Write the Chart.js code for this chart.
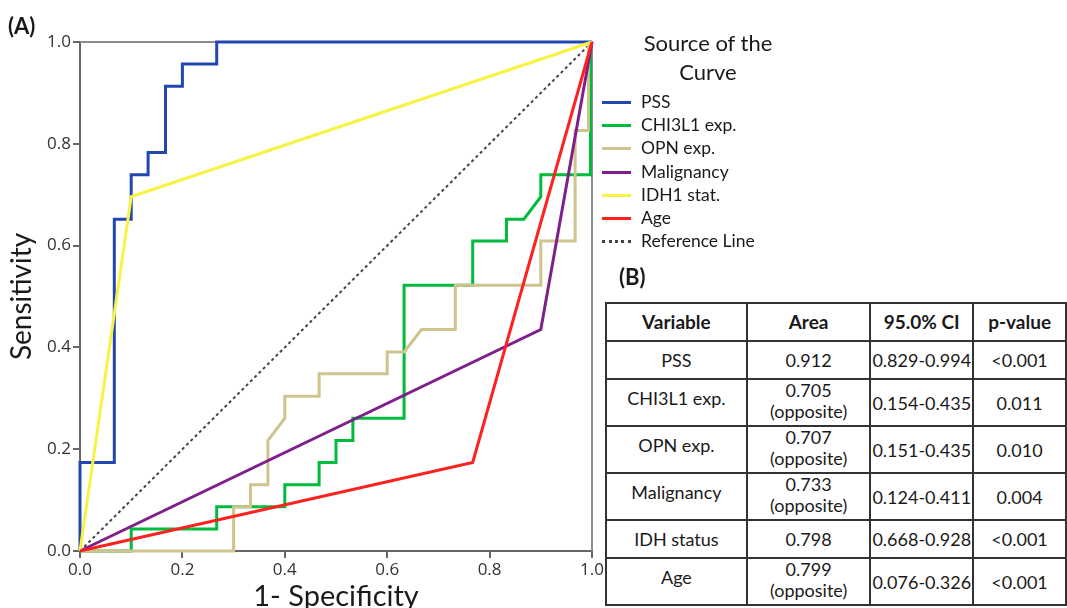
<!DOCTYPE html>
<html>
<head>
<meta charset="utf-8">
<script src="https://cdn.jsdelivr.net/npm/chart.js@4.4.1/dist/chart.umd.min.js"></script>
<style>
  html,body{margin:0;padding:0;background:#fff;overflow:hidden}
  body{width:1067px;height:608px;position:relative;font-family:Lato,sans-serif;color:#1a1a1a}
  #roc{position:absolute;left:0;top:0}
  .panel{position:absolute;font-weight:bold;font-size:22px;line-height:26px}
  #legend{position:absolute;left:596px;top:28px;width:224px}
  #legend .ttl{text-align:center;font-size:22px;line-height:29px}
  .item{position:absolute;left:45px;font-size:17.5px;line-height:20px;white-space:nowrap}
  .item i{position:absolute;left:-39px;top:9px;width:29px;height:0;border-top:3px solid}
  #stats{position:absolute;left:605px;top:302px;border-collapse:collapse;table-layout:fixed;background:#fff;font-size:18px}
  #stats th,#stats td{border:2px solid #333;text-align:center;padding:0;line-height:22px;white-space:nowrap;overflow:visible}
  #stats th{font-size:19px}
  #stats td.top{vertical-align:top;padding-top:7px}
  #stats td.area2{vertical-align:top;padding-top:0;line-height:21px}
</style>
</head>
<body>
<canvas id="roc" width="620" height="608"></canvas>
<div class="panel" style="left:8px;top:13px">(A)</div>
<div class="panel" style="left:619px;top:264px">(B)</div>
<div id="legend"><div class="ttl">Source of the<br>Curve</div></div>
<table id="stats"></table>

<script>
// ROC curves (x = 1 - specificity, y = sensitivity)
const curveNames = ['PSS','CHI3L1 exp.','OPN exp.','Malignancy','IDH1 stat.','Age','Reference Line'];
const curveColors = ['#2148b0','#00bb3c','#cfc48e','#7e1f8c','#f8f245','#ff2020','#444444'];

const pssX = [0,0,0.067,0.067,0.1,0.1,0.133,0.133,0.167,0.167,0.2,0.2,0.267,0.267,1];
const pssY = [0,0.174,0.174,0.652,0.652,0.739,0.739,0.783,0.783,0.913,0.913,0.957,0.957,1,1];

const chiX = [0,0.1,0.1,0.267,0.267,0.4,0.4,0.467,0.467,0.5,0.5,0.533,0.533,0.633,0.633,0.767,0.767,0.833,0.833,0.867,0.9,0.9,0.997,0.997,0.997];
const chiY = [0,0,0.043,0.043,0.087,0.087,0.13,0.13,0.174,0.174,0.217,0.217,0.261,0.261,0.522,0.522,0.609,0.609,0.652,0.652,0.696,0.739,0.739,0.826,1];

const opnX = [0,0.3,0.3,0.333,0.333,0.367,0.367,0.4,0.4,0.467,0.467,0.6,0.6,0.633,0.667,0.733,0.733,0.9,0.9,0.967,0.967,0.993,0.993];
const opnY = [0,0,0.087,0.087,0.13,0.13,0.217,0.261,0.304,0.304,0.348,0.348,0.391,0.391,0.435,0.435,0.522,0.522,0.609,0.609,0.826,0.826,1];

const malX = [0,0.9,1];
const malY = [0,0.435,1];

const idhX = [0,0.1,1];
const idhY = [0,0.696,1];

const ageX = [0,0.767,1];
const ageY = [0,0.174,1];

const refX = [0,1];
const refY = [0,1];

const axisTicks = [0,0.2,0.4,0.6,0.8,1.0];

// table (B)
const tableHead = ['Variable','Area','95.0% CI','p-value'];
const tableVariables = ['PSS','CHI3L1 exp.','OPN exp.','Malignancy','IDH status','Age'];
const tableAreas = ['0.912','0.705','0.707','0.733','0.798','0.799'];
const tableOpposite = [false,true,true,true,false,true];
const tableCI = ['0.829-0.994','0.154-0.435','0.151-0.435','0.124-0.411','0.668-0.928','0.076-0.326'];
const tablePValues = ['<0.001','0.011','0.010','0.004','<0.001','<0.001'];

const colWidths = [144,127,103,95];
const rowHeights = [38,38,47,47,47,38,47];

function pts(xs,ys){return xs.map((x,i)=>({x,y:ys[i]}))}

const curveX = [pssX,chiX,opnX,malX,idhX,ageX,refX];
const curveY = [pssY,chiY,opnY,malY,idhY,ageY,refY];
// later curves sit on top, reference line underneath
const drawOrder = [5,4,3,2,1,0,6];

const datasets = curveNames.map((name,i)=>({
  label:name,
  data:pts(curveX[i],curveY[i]),
  borderColor:curveColors[i],
  borderWidth:i===6?2:3,
  borderDash:i===6?[3,3]:[],
  showLine:true,
  pointRadius:0,
  tension:0,
  clip:false,
  order:drawOrder[i]
}));

const frame = {
  id:'frame',
  beforeDatasetsDraw(chart){
    const {ctx,chartArea:a} = chart;
    ctx.save();
    ctx.strokeStyle='#8c8c8c';ctx.lineWidth=2;
    ctx.beginPath();ctx.moveTo(a.left,a.top);ctx.lineTo(a.right,a.top);ctx.lineTo(a.right,a.bottom);ctx.stroke();
    ctx.restore();
  }
};

const tickFont = {family:'"Open Sans"',size:17};
const axisCommon = {
  type:'linear',min:0,max:1,
  afterBuildTicks:s=>{s.ticks=axisTicks.map(v=>({value:v}))},
  ticks:{font:tickFont,color:'#333',padding:2,callback:v=>Number(v).toFixed(1)},
  grid:{drawOnChartArea:false,color:'#666',lineWidth:2,tickLength:7},
  border:{color:'#666',width:2}
};

new Chart(document.getElementById('roc'),{
  type:'scatter',
  data:{datasets},
  plugins:[frame],
  options:{
    responsive:false,animation:false,
    layout:{padding:{left:0,top:42,right:28,bottom:0}},
    plugins:{legend:{display:false},tooltip:{enabled:false}},
    scales:{
      x:{...axisCommon,
        afterFit:s=>{s.height=57},
        title:{display:true,text:'1- Specificity',color:'#1a1a1a',font:{family:'Lato',size:29},padding:{top:0,bottom:-6}}},
      y:{...axisCommon,
        afterFit:s=>{s.width=80},
        title:{display:true,text:'Sensitivity',color:'#1a1a1a',font:{family:'Lato',size:28},padding:{top:5,bottom:0}}}
    }
  }
});

// legend
const legend = document.getElementById('legend');
curveNames.forEach((name,i)=>{
  const d=document.createElement('div');
  d.className='item';
  d.style.top=(64+i*23.2)+'px';
  d.innerHTML='<i style="border-top:'+(i===6?'3px dotted ':'3px solid ')+curveColors[i]+'"></i>'+name;
  legend.appendChild(d);
});

// table
const tbl = document.getElementById('stats');
let html = '<colgroup>'+colWidths.map(w=>'<col style="width:'+w+'px">').join('')+'</colgroup>';
html += '<tr style="height:'+rowHeights[0]+'px">'+tableHead.map(h=>'<th>'+h+'</th>').join('')+'</tr>';
tableVariables.forEach((v,i)=>{
  const opp = tableOpposite[i];
  html += '<tr style="height:'+rowHeights[i+1]+'px">'+
    '<td'+(opp?' class="top"':'')+'>'+v+'</td>'+
    '<td'+(opp?' class="area2"':'')+'>'+tableAreas[i]+(opp?'<br>(opposite)':'')+'</td>'+
    '<td>'+tableCI[i]+'</td>'+
    '<td>'+tablePValues[i].replace('<','&lt;')+'</td></tr>';
});
tbl.innerHTML = html;
</script>
</body>
</html>
